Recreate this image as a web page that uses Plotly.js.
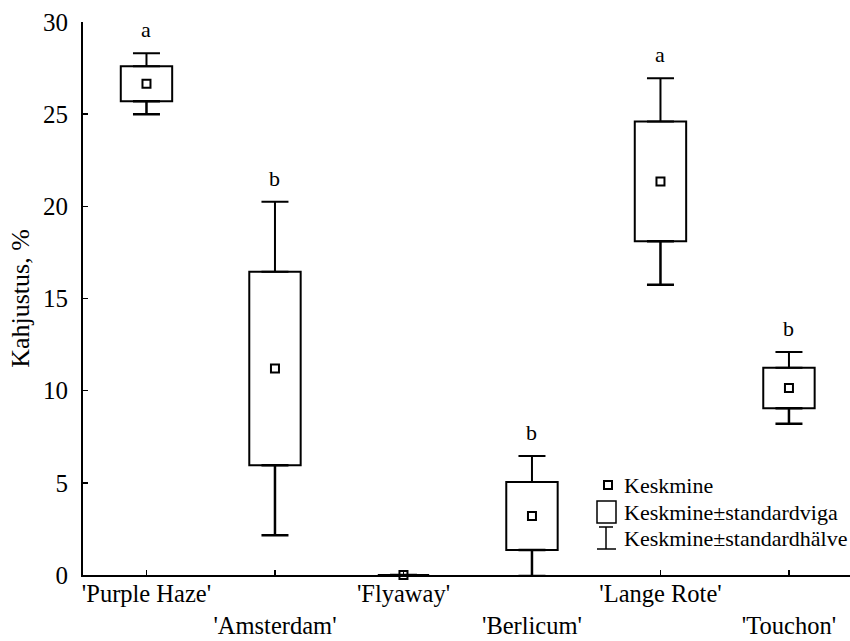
<!DOCTYPE html>
<html>
<head>
<meta charset="utf-8">
<script src="https://cdn.plot.ly/plotly-3.0.1.min.js"></script>
<style>html,body{margin:0;padding:0;background:#fff;}#chart{width:850px;height:641px;}</style>
</head>
<body>
<div id="chart"></div>
<script>
// ---- data ----
const cultivars = ["'Purple Haze'", "'Amsterdam'", "'Flyaway'", "'Berlicum'", "'Lange Rote'", "'Touchon'"];
const meanValues = [26.65, 11.2, 0, 3.2, 21.35, 10.15];   // Keskmine
const stdError   = [0.95, 5.25, 0, 1.85, 3.25, 1.1];      // standardviga
const stdDev     = [1.65, 9.05, 0, 3.25, 5.6, 1.95];      // standardhälve
const sigLetters = ["a", "b", "", "b", "a", "b"];
const yTicks = [0, 5, 10, 15, 20, 25, 30];
const legendLabels = ["Keskmine", "Keskmine\u00b1standardviga", "Keskmine\u00b1standardh\u00e4lve"];

const FONT = "Liberation Serif, Times New Roman, serif";
const idx = cultivars.map((_, i) => i);
const boxLow = meanValues.map((m, i) => m - stdError[i]);
const boxHigh = meanValues.map((m, i) => m + stdError[i]);
const boxSpan = stdError.map(s => 2 * s);
const whiskerExtra = stdDev.map((d, i) => d - stdError[i]);
const zeros = idx.map(() => 0);

const traces = [
  { // box: mean ± standard error
    type: 'bar', x: idx, y: boxSpan, base: boxLow, width: 0.4,
    marker: { color: '#ffffff', line: { color: '#000', width: 2 } },
    hoverinfo: 'skip', showlegend: false
  },
  { // upper whisker
    type: 'scatter', mode: 'markers', x: idx, y: boxHigh,
    marker: { size: 1, opacity: 0 },
    error_y: { type: 'data', symmetric: false, array: whiskerExtra, arrayminus: zeros,
               width: 13.5, thickness: 2, color: '#000' },
    hoverinfo: 'skip', showlegend: false, cliponaxis: false
  },
  { // lower whisker
    type: 'scatter', mode: 'markers', x: idx, y: boxLow,
    marker: { size: 1, opacity: 0 },
    error_y: { type: 'data', symmetric: false, array: zeros, arrayminus: whiskerExtra,
               width: 13.5, thickness: 2.5, color: '#000' },
    hoverinfo: 'skip', showlegend: false, cliponaxis: false
  },
  { // mean
    type: 'scatter', mode: 'markers', x: idx, y: meanValues,
    marker: { symbol: 'square-open', size: 8, color: '#000', line: { width: 2, color: '#000' } },
    showlegend: false, cliponaxis: false
  }
];

const L = 83, T = 22, W = 767, H = 553;
const px = v => (v - L) / W;
const py = v => (T + H - v) / H;

const annotations = idx.filter(i => sigLetters[i]).map(i => ({
  x: i, y: meanValues[i] + stdDev[i], xref: 'x', yref: 'y',
  text: sigLetters[i], showarrow: false, yanchor: 'bottom', yshift: 9,
  font: { family: FONT, size: 22, color: '#000' }
}));

const legendY = [485, 512, 538];
legendLabels.forEach((t, k) => annotations.push({
  x: px(622), y: py(legendY[k]), xref: 'paper', yref: 'paper',
  text: t, showarrow: false, xanchor: 'left', yanchor: 'middle',
  font: { family: FONT, size: 22, color: '#000' }
}));

const shapes = [
  { type: 'rect', xref: 'paper', yref: 'paper', x0: px(604), x1: px(612), y0: py(481), y1: py(489),
    line: { color: '#000', width: 2 } },
  { type: 'rect', xref: 'paper', yref: 'paper', x0: px(597), x1: px(616), y0: py(501), y1: py(523),
    line: { color: '#000', width: 1.5 } },
  { type: 'line', xref: 'paper', yref: 'paper', x0: px(606), x1: px(606), y0: py(527), y1: py(549),
    line: { color: '#000', width: 1.5 } },
  { type: 'line', xref: 'paper', yref: 'paper', x0: px(599), x1: px(613), y0: py(527), y1: py(527),
    line: { color: '#000', width: 1.5 } },
  { type: 'line', xref: 'paper', yref: 'paper', x0: px(597), x1: px(616), y0: py(549), y1: py(549),
    line: { color: '#000', width: 1.5 } }
];

const layout = {
  width: 850, height: 641,
  margin: { l: L, r: 0, t: T, b: 641 - T - H },
  paper_bgcolor: '#fff', plot_bgcolor: '#fff',
  font: { family: FONT, size: 24, color: '#000' },
  showlegend: false,
  xaxis: {
    range: [-0.494, 5.475], tickmode: 'array', tickvals: idx,
    ticktext: cultivars.map((c, i) => i % 2 ? '<br>' + c : c),
    tickangle: 0, ticklabelstandoff: -4,
    ticks: 'inside', ticklen: 5, tickwidth: 1.5, tickcolor: '#000',
    showline: true, linecolor: '#000', linewidth: 2, showgrid: false, zeroline: false,
    tickfont: { family: FONT, size: 24.5, color: '#000' }, fixedrange: true
  },
  yaxis: {
    range: [0, 30], tickmode: 'array', tickvals: yTicks,
    ticks: 'inside', ticklen: 5, tickwidth: 1.5, tickcolor: '#000',
    showline: true, linecolor: '#000', linewidth: 2, showgrid: false, zeroline: false,
    tickfont: { family: FONT, size: 25, color: '#000' }, ticklabelstandoff: 8,
    title: { text: 'Kahjustus, %', font: { family: FONT, size: 26, color: '#000' }, standoff: 6 },
    fixedrange: true
  },
  bargap: 0, annotations: annotations, shapes: shapes
};

Plotly.newPlot('chart', traces, layout, { displayModeBar: false, staticPlot: true });
</script>
</body>
</html>
